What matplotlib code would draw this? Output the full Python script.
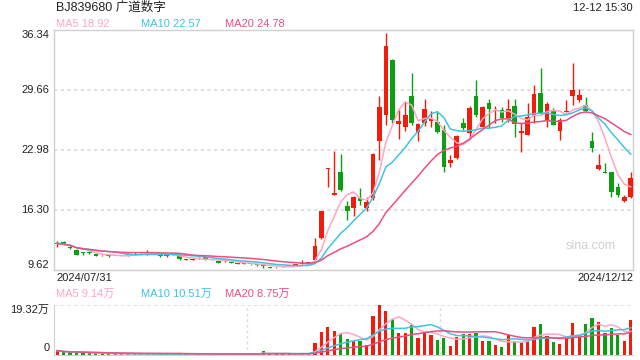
import matplotlib
matplotlib.use("Agg")
import matplotlib.pyplot as plt
import numpy as np
import pandas as pd

plt.rcParams['font.family'] = ['Liberation Sans', 'Noto Sans CJK SC', 'DejaVu Sans']

# data (prices in yuan, volume in 万 shares)
title = "BJ839680 广道数字"
timestamp = "12-12 15:30"
first_date = "2024/07/31"
last_date = "2024/12/12"

opens = [12.50, 12.70, 12.15, 11.88, 11.57, 11.55, 11.40, 11.28, 11.20, 11.16,
         11.16, 11.25, 11.55, 11.58, 11.52, 11.50, 11.48, 11.15, 11.35, 11.18,
         10.70, 10.70, 10.85, 11.07, 10.83, 10.59, 10.65, 10.48, 10.37, 10.33,
         10.29, 10.29, 10.12, 9.99, 9.90, 9.95, 10.12, 10.15, 10.30, 10.36,
         10.77, 13.18, 20.92, 18.01, 20.53, 16.71, 16.52, 17.64, 16.52, 17.64,
         24.02, 26.91, 33.00, 25.91, 25.51, 28.96, 25.02, 26.02, 26.24, 26.13,
         25.21, 21.57, 22.06, 25.95, 24.84, 29.00, 25.58, 28.18, 27.32, 27.43,
         26.51, 27.88, 24.84, 24.65, 26.80, 29.36, 26.32, 27.43, 25.13, 27.25,
         28.99, 28.55, 28.00, 23.98, 20.87, 20.57, 20.50, 18.90, 17.34, 17.78]
closes = [12.58, 12.43, 12.08, 11.32, 11.52, 11.50, 11.22, 11.24, 11.16, 11.19,
          11.19, 11.30, 11.50, 11.52, 11.58, 11.55, 11.15, 11.19, 11.30, 10.81,
          10.75, 10.75, 10.90, 10.81, 10.79, 10.45, 10.60, 10.44, 10.33, 10.30,
          10.26, 10.14, 10.09, 9.84, 9.95, 9.99, 10.08, 10.20, 10.35, 10.42,
          12.29, 16.16, 20.98, 18.16, 18.56, 16.16, 17.72, 17.34, 17.19, 22.54,
          27.77, 34.53, 26.35, 26.18, 26.84, 25.99, 25.87, 27.55, 26.43, 24.95,
          21.12, 21.87, 24.54, 25.40, 27.69, 26.88, 27.73, 27.51, 27.43, 26.51,
          27.51, 25.84, 25.10, 26.69, 29.21, 27.14, 28.10, 25.76, 26.32, 27.36,
          29.66, 29.10, 27.36, 23.24, 21.31, 20.46, 18.34, 17.97, 17.78, 19.83]
highs = [12.89, 12.89, 12.52, 12.00, 11.62, 11.70, 11.42, 11.30, 11.25, 11.22,
         11.22, 11.55, 11.60, 11.62, 11.82, 11.65, 11.55, 11.25, 11.40, 11.20,
         10.80, 10.80, 11.05, 11.10, 10.90, 10.62, 10.75, 10.55, 10.45, 10.38,
         10.32, 10.31, 10.15, 10.00, 10.00, 10.05, 10.15, 10.30, 10.70, 10.55,
         13.18, 16.20, 21.00, 22.90, 22.54, 17.27, 17.83, 18.75, 17.72, 22.65,
         28.96, 36.01, 33.10, 27.47, 28.40, 31.55, 26.02, 28.66, 27.36, 27.25,
         25.76, 22.42, 24.65, 26.51, 27.88, 30.77, 27.88, 28.63, 27.88, 27.73,
         28.66, 28.63, 25.95, 28.25, 30.22, 32.14, 28.36, 27.62, 26.51, 28.55,
         32.63, 29.73, 28.92, 25.02, 22.50, 21.50, 20.57, 19.27, 17.97, 20.57]
lows = [12.19, 12.37, 11.99, 11.30, 11.33, 11.40, 11.20, 11.18, 11.10, 11.14,
        11.14, 11.23, 11.45, 11.48, 11.33, 11.45, 11.12, 11.10, 11.28, 10.75,
        10.68, 10.68, 10.83, 10.70, 10.75, 10.42, 10.50, 10.40, 10.28, 10.25,
        10.22, 10.10, 9.84, 9.82, 9.88, 9.92, 10.05, 10.12, 10.28, 10.33,
        10.72, 13.10, 18.83, 17.95, 18.38, 15.22, 15.60, 16.86, 16.16, 17.45,
        21.90, 25.80, 25.99, 24.24, 25.06, 25.80, 24.02, 25.65, 25.58, 24.84,
        20.56, 21.12, 22.00, 25.21, 24.17, 26.69, 25.51, 25.40, 25.95, 26.13,
        26.13, 24.46, 22.79, 24.60, 25.95, 26.88, 25.58, 25.76, 24.09, 27.20,
        27.99, 28.36, 27.30, 22.79, 20.80, 20.39, 17.78, 17.78, 17.23, 17.60]
volumes = [1.7, 1.0, 1.0, 1.0, 0.65, 0.8, 0.65, 0.4, 0.4, 0.4,
           0.4, 0.4, 0.4, 0.4, 0.4, 0.4, 0.45, 0.4, 0.4, 0.55,
           0.4, 0.4, 0.4, 0.4, 0.4, 0.4, 0.4, 0.4, 0.4, 0.4,
           0.4, 0.55, 1.7, 0.4, 0.4, 0.4, 0.4, 0.4, 0.5, 0.5,
           4.6, 8.8, 10.8, 9.2, 8.1, 6.2, 5.5, 5.4, 3.7, 15.1,
           19.32, 17.0, 13.8, 8.6, 8.6, 11.6, 6.7, 9.0, 7.7, 5.8,
           6.7, 3.5, 6.8, 8.1, 8.1, 8.6, 5.4, 5.4, 3.9, 3.0,
           7.7, 5.4, 4.8, 5.5, 10.7, 12.0, 7.3, 5.2, 4.3, 6.4,
           12.5, 7.7, 12.0, 14.4, 12.9, 8.6, 10.6, 7.7, 5.5, 13.5]

price_ticks = [9.62, 16.30, 22.98, 29.66, 36.34]
vol_max = 19.32
price_ma_labels = ["MA5 18.92", "MA10 22.57", "MA20 24.78"]
vol_ma_labels = ["MA5 9.14万", "MA10 10.51万", "MA20 8.75万"]

RED = '#f21b0c'
GREEN = '#0d9f12'
MA_COLORS = ['#ffa6c3', '#3ec4e2', '#ec4f80']
GRID = '#dcdcdc'
FRAME = '#d0d0d0'
TXT = '#222222'


def main():
    o = np.array(opens)
    c = np.array(closes)
    h = np.array(highs)
    l = np.array(lows)
    v = np.array(volumes)
    x = np.arange(len(o))
    up = c >= o
    colors = np.where(up, RED, GREEN)

    fig = plt.figure(figsize=(6.4, 3.6), dpi=100)
    ax = fig.add_axes([54 / 640, 1 - 270 / 360, 579 / 640, 240 / 360])
    axv = fig.add_axes([54 / 640, 1 - 355 / 360, 579 / 640, 50 / 360])

    # price panel
    for yv in price_ticks[1:-1]:
        ax.axhline(yv, color=GRID, lw=1.2, ls=(0, (2, 2)), zorder=0)
    ax.vlines(x, l, h, colors=colors, lw=1, zorder=2)
    body = np.maximum(np.abs(c - o), 0.1)
    ax.bar(x, body, bottom=np.minimum(o, c), width=0.72, color=colors, zorder=3)

    cs = pd.Series(c)
    for n, col in zip([5, 10, 20], MA_COLORS):
        ax.plot(x, cs.rolling(n, min_periods=1).mean(), color=col, lw=1.1, zorder=4)

    ax.set_xlim(-0.5, len(o) - 0.65)
    ax.set_ylim(price_ticks[0], price_ticks[-1])
    ax.set_xticks([])
    ax.set_yticks([])
    for s in ax.spines.values():
        s.set_color(FRAME)
        s.set_linewidth(1)

    ytr = ax.get_yaxis_transform()
    for i, yv in enumerate(price_ticks):
        va = 'bottom' if i == 0 else ('top' if i == len(price_ticks) - 1 else 'center')
        ax.text(-0.008, yv, "%.2f" % yv, transform=ytr, ha='right', va=va,
                fontsize=8, color=TXT)
    ax.text(0.97, 0.1, "sina.com", transform=ax.transAxes, ha='right', va='center',
            fontsize=9, color='#cfcfcf')

    # volume panel
    axv.axhline(vol_max, color=GRID, lw=1.2, ls=(0, (2, 2)), zorder=0)
    for frac in [1 / 3, 2 / 3]:
        axv.axvline(-0.5 + frac * (len(o) - 0.15), color=GRID, lw=1, ls=(0, (2, 2)), zorder=0)
    axv.bar(x, v, width=0.5, color=colors, zorder=2)
    vs = pd.Series(v)
    for n, col in zip([5, 10, 20], MA_COLORS):
        axv.plot(x, vs.rolling(n, min_periods=1).mean(), color=col, lw=1.1, zorder=3)
    axv.set_xlim(ax.get_xlim())
    axv.set_ylim(0, vol_max)
    axv.set_xticks([])
    axv.set_yticks([])
    for side in ['top', 'right']:
        axv.spines[side].set_visible(False)
    for side in ['left', 'bottom']:
        axv.spines[side].set_color(FRAME)
    vtr = axv.get_yaxis_transform()
    axv.text(-0.008, vol_max, "%.2f万" % vol_max, transform=vtr, ha='right', va='top',
             fontsize=8, color=TXT)
    axv.text(-0.008, 0.6, "0", transform=vtr, ha='right', va='bottom',
             fontsize=8, color=TXT)

    # header and labels
    fig.text(56 / 640, 1 - 8 / 360, title, ha='left', va='center', fontsize=9, color=TXT)
    fig.text(633 / 640, 1 - 8 / 360, timestamp, ha='right', va='center', fontsize=8, color=TXT)
    for lbl, col, px in zip(price_ma_labels, MA_COLORS, [56, 141, 225]):
        fig.text(px / 640, 1 - 24 / 360, lbl, ha='left', va='center', fontsize=8, color=col)
    for lbl, col, px in zip(vol_ma_labels, MA_COLORS, [56, 141, 225]):
        fig.text(px / 640, 1 - 294 / 360, lbl, ha='left', va='center', fontsize=8, color=col)
    fig.text(56 / 640, 1 - 278 / 360, first_date, ha='left', va='center', fontsize=8, color=TXT)
    fig.text(633 / 640, 1 - 278 / 360, last_date, ha='right', va='center', fontsize=8, color=TXT)

    fig.savefig("out.png", dpi=100)


main()
